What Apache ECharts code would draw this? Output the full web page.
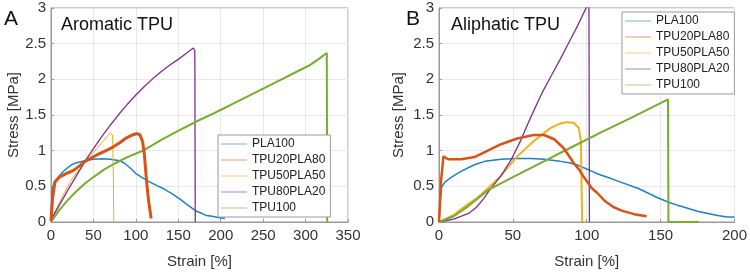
<!DOCTYPE html>
<html>
<head>
<meta charset="utf-8">
<script src="https://cdn.jsdelivr.net/npm/echarts@6/dist/echarts.min.js"></script>
<style>
  html, body { margin: 0; padding: 0; background: #fff; }
  #chart { width: 750px; height: 274px; }
</style>
</head>
<body>
<div id="chart"></div>
<script>
// series names and colors (MATLAB default order)
const names = ['PLA100', 'TPU20PLA80', 'TPU50PLA50', 'TPU80PLA20', 'TPU100'];
const colors = ['#1f80c2', '#d95319', '#edb120', '#7e2f8e', '#77ac30'];

// tick values
const aroStrainTicks = [0, 50, 100, 150, 200, 250, 300, 350];
const aliStrainTicks = [0, 50, 100, 150, 200];
const stressTicks = [0, 0.5, 1, 1.5, 2, 2.5, 3];

// A: aromatic TPU, [strain %, stress MPa]
const aroPLA100 = [[0,0],[0.5,0.2],[1.5,0.47],[4,0.56],[8.6,0.63],[13,0.69],[18.5,0.75],[24,0.8],[30,0.83],[40,0.86],[50,0.88],[60,0.885],[70,0.88],[81,0.86],[87,0.82],[93,0.76],[101,0.67],[108,0.62],[116.6,0.56],[125,0.51],[132,0.47],[142,0.4],[152,0.32],[162,0.23],[171.6,0.15],[178,0.12],[183,0.09],[190,0.08],[198,0.06],[205,0.05]];
const aroTPU20 = [[0,0.02],[2,0.35],[4.7,0.56],[10,0.63],[18,0.68],[26,0.72],[33,0.78],[40,0.85],[54,0.94],[63,0.99],[73,1.05],[81,1.11],[89,1.18],[96,1.22],[101,1.24],[105,1.22],[108,1.12],[110,0.95],[112.7,0.56],[115,0.3],[118,0.05]];
const aroTPU50 = [[0,0],[5,0.15],[10.6,0.29],[16,0.42],[22.4,0.56],[30,0.69],[38,0.8],[46,0.92],[54,1.03],[62,1.14],[69.5,1.25],[72.6,1.22],[73.5,0.6],[74,0]];
const aroTPU80 = [[0,0.03],[10,0.24],[20,0.45],[30,0.65],[40,0.85],[50,1.03],[60,1.2],[70,1.36],[80,1.51],[90,1.65],[100,1.78],[110,1.9],[120,2.01],[130,2.11],[140,2.2],[150,2.28],[160,2.37],[167.6,2.44],[169.5,2.4],[170,0]];
const aroTPU100 = [[0,0],[10,0.17],[20,0.31],[30,0.43],[40,0.54],[50,0.63],[62,0.73],[75,0.82],[90,0.91],[110,1.01],[130,1.15],[152,1.29],[175,1.43],[191,1.52],[210,1.63],[230,1.75],[250,1.87],[270,1.99],[290,2.11],[305,2.2],[315,2.28],[325,2.37],[325.5,0]];

// B: aliphatic TPU
const aliPLA100 = [[0,0],[0.8,0.3],[1.8,0.49],[4,0.56],[8.5,0.63],[14,0.7],[19.7,0.76],[25,0.81],[31,0.85],[42,0.88],[53,0.89],[62,0.89],[71,0.88],[82,0.85],[88,0.83],[93.5,0.8],[98,0.76],[102.5,0.72],[108,0.67],[115,0.62],[121.5,0.57],[135,0.47],[148,0.34],[155,0.28],[162,0.23],[175,0.15],[182,0.12],[188.6,0.09],[195,0.07],[200,0.07]];
const aliTPU20 = [[0,0],[1.5,0.6],[3,0.92],[4.5,0.9],[6.3,0.88],[15,0.88],[24,0.91],[33,1.0],[42,1.09],[53,1.17],[64,1.22],[71,1.22],[78,1.16],[84.6,1.03],[91,0.83],[95,0.73],[98,0.63],[103.6,0.47],[107,0.41],[112.5,0.29],[118,0.21],[123.7,0.16],[132,0.11],[140.5,0.08]];
const aliTPU50 = [[0,0],[10,0.1],[19.7,0.25],[26,0.34],[33,0.47],[42,0.65],[53,0.92],[64.4,1.14],[75.6,1.32],[82,1.38],[86.8,1.4],[91,1.39],[94.6,1.32],[96,1.14],[96.9,0]];
const aliTPU80 = [[0,0],[10,0.04],[20,0.12],[25,0.2],[30,0.32],[34,0.44],[42,0.65],[48.8,0.87],[55,1.13],[60,1.37],[65,1.6],[70,1.82],[76,2.05],[82,2.28],[88,2.52],[94,2.76],[100,3.02],[101.5,3.05],[101.8,0]];
const aliTPU100 = [[0,0],[10,0.08],[19.7,0.22],[33.4,0.45],[53,0.66],[71,0.85],[87,1.02],[111,1.27],[130,1.46],[155,1.72],[155.3,0],[176,0]];

const aroData = [aroPLA100, aroTPU20, aroTPU50, aroTPU80, aroTPU100];
const aliData = [aliPLA100, aliTPU20, aliTPU50, aliTPU80, aliTPU100];
const aroWidths = [1.5, 3, 1, 1.3, 2];
const aliWidths = [1.5, 2.5, 2, 1.3, 2];

const font = "'Liberation Sans', Arial, sans-serif";
const chart = echarts.init(document.getElementById('chart'));

function xAxis(idx, ticks) {
  return {
    type: 'value', gridIndex: idx,
    min: ticks[0], max: ticks[ticks.length - 1], interval: ticks[1] - ticks[0],
    name: 'Strain [%]', nameLocation: 'middle', nameGap: 32,
    nameTextStyle: { fontFamily: font, fontSize: 15, color: '#333' },
    axisLine: { show: true, onZero: false, lineStyle: { color: '#999' } },
    axisTick: { show: true, inside: true, length: 3, lineStyle: { color: '#999' } },
    axisLabel: { fontFamily: font, fontSize: 15, color: '#333', margin: 6 },
    splitLine: { show: true, lineStyle: { color: '#e8e8e8' } }
  };
}

function yAxis(idx, gap) {
  return {
    type: 'value', gridIndex: idx,
    min: stressTicks[0], max: stressTicks[stressTicks.length - 1], interval: stressTicks[1] - stressTicks[0],
    name: 'Stress [MPa]', nameLocation: 'middle', nameGap: gap,
    nameTextStyle: { fontFamily: font, fontSize: 15, color: '#333' },
    axisLine: { show: true, lineStyle: { color: '#999' } },
    axisTick: { show: true, inside: true, length: 3, lineStyle: { color: '#999' } },
    axisLabel: { fontFamily: font, fontSize: 15, color: '#333', margin: 5 },
    splitLine: { show: true, lineStyle: { color: '#e8e8e8' } }
  };
}

function legend(left, top) {
  return {
    orient: 'vertical', left: left, top: top,
    data: names.map(n => ({ name: n, icon: 'rect' })),
    backgroundColor: '#fff', borderColor: '#999', borderWidth: 1,
    padding: [3, 5, 3, 3], itemGap: 4,
    itemWidth: 26, itemHeight: 1.2,
    itemStyle: { opacity: 0.5 },
    textStyle: { fontFamily: font, fontSize: 12, color: '#222', lineHeight: 12 }
  };
}

const series = [];
names.forEach((n, i) => {
  series.push({
    name: n, type: 'line', xAxisIndex: 0, yAxisIndex: 0,
    data: aroData[i], showSymbol: false, symbol: 'none', clip: true,
    lineStyle: { width: aroWidths[i], color: colors[i] }, itemStyle: { color: colors[i] },
    z: i === 1 ? 3 : 2
  });
});
names.forEach((n, i) => {
  series.push({
    name: n, type: 'line', xAxisIndex: 1, yAxisIndex: 1,
    data: aliData[i], showSymbol: false, symbol: 'none', clip: true,
    lineStyle: { width: aliWidths[i], color: colors[i] }, itemStyle: { color: colors[i] },
    z: i === 1 ? 3 : 2
  });
});

chart.setOption({
  animation: false,
  backgroundColor: '#fff',
  title: [
    { text: 'A', left: -1, top: 4, textStyle: { fontFamily: font, fontSize: 21, fontWeight: 'normal', color: '#111' } },
    { text: 'Aromatic TPU', left: 56, top: 11, textStyle: { fontFamily: font, fontSize: 18, fontWeight: 'normal', color: '#111' } },
    { text: 'B', left: 401, top: 4, textStyle: { fontFamily: font, fontSize: 21, fontWeight: 'normal', color: '#111' } },
    { text: 'Aliphatic TPU', left: 446, top: 11, textStyle: { fontFamily: font, fontSize: 18, fontWeight: 'normal', color: '#111' } }
  ],
  legend: [legend(218, 135), legend(622, 12)],
  grid: [
    { left: 51, right: 402, top: 8, bottom: 42, show: true, borderColor: '#999', borderWidth: 1 },
    { left: 439, right: 13, top: 8, bottom: 42, show: true, borderColor: '#999', borderWidth: 1 }
  ],
  xAxis: [xAxis(0, aroStrainTicks), xAxis(1, aliStrainTicks)],
  yAxis: [yAxis(0, 30), yAxis(1, 33)],
  series: series
});

window.addEventListener('resize', () => chart.resize());
</script>
</body>
</html>
